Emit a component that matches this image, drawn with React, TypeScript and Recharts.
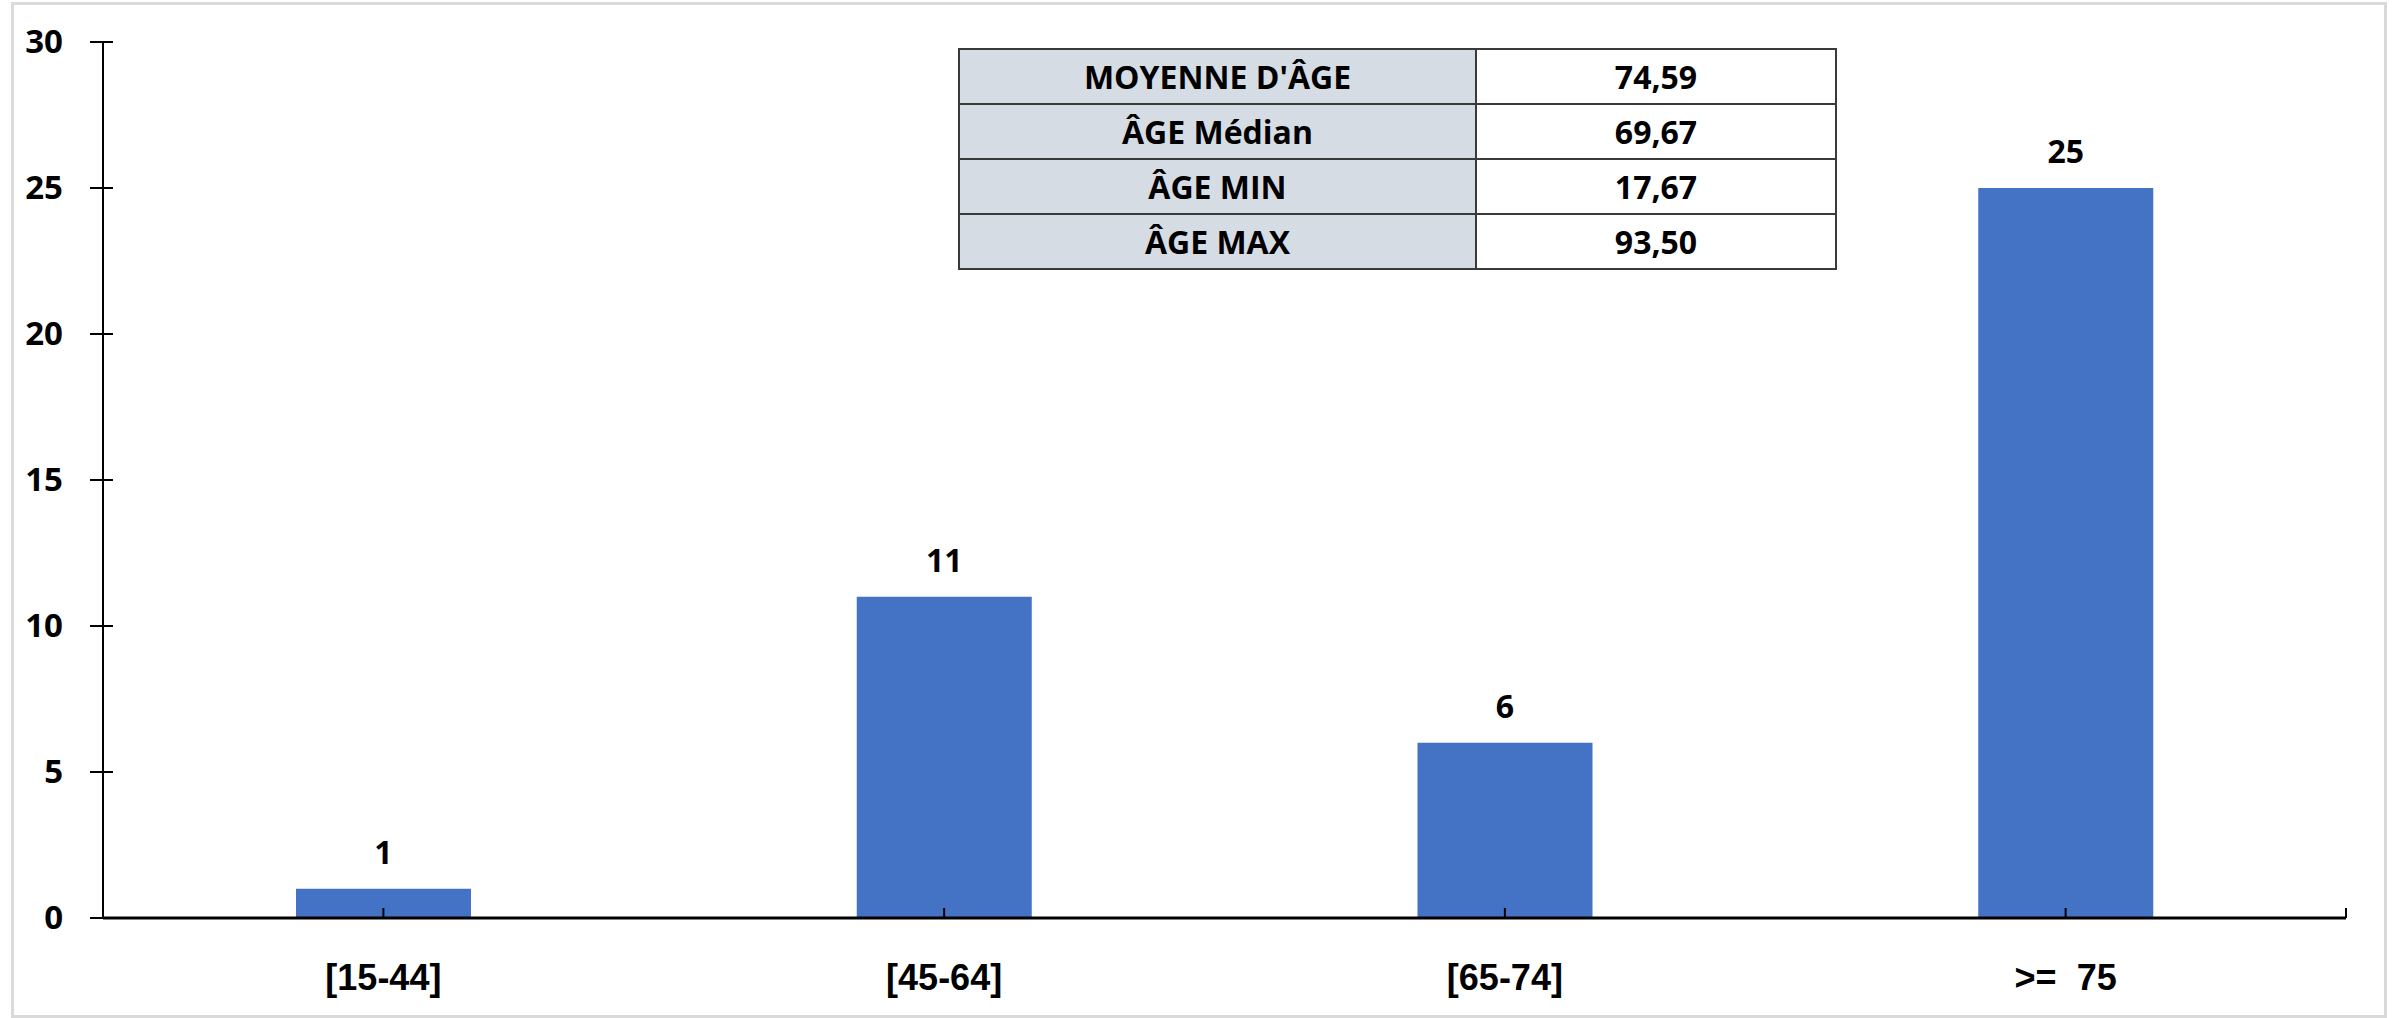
import { BarChart, Bar, XAxis, YAxis, LabelList } from 'recharts';

const ageGroups = ['[15-44]', '[45-64]', '[65-74]', '>=  75'];
const patientCounts = [1, 11, 6, 25];
const yTicks = [0, 5, 10, 15, 20, 25, 30];

const statLabels = ["MOYENNE D'ÂGE", 'ÂGE Médian', 'ÂGE MIN', 'ÂGE MAX'];
const statValues = ['74,59', '69,67', '17,67', '93,50'];

const data = ageGroups.map((group, i) => ({ group, count: patientCounts[i] }));

const CHART_W = 2392;
const CHART_H = 1018;
const MARGIN = { top: 42, right: 46, left: 0, bottom: 0 };
const Y_AXIS_W = 103;
const BAND_W = (CHART_W - MARGIN.left - MARGIN.right - Y_AXIS_W) / ageGroups.length;

const BAR_COLOR = '#4472C4';
const LABEL_FONT = '"Open Sans", sans-serif';
const AXIS_FONT = '"Liberation Sans", Arial, sans-serif';

function YTick({ x, y, payload }: any) {
  return (
    <g>
      <line x1={x - 13} x2={x + 10} y1={y} y2={y} stroke="#000" strokeWidth={2} />
      <text
        x={x - 40}
        y={y + 11}
        textAnchor="end"
        fontFamily={LABEL_FONT}
        fontWeight={700}
        fontSize={33}
        fill="#000"
      >
        {payload.value}
      </text>
    </g>
  );
}

function XTick({ x, y, payload, index }: any) {
  const isLast = index === ageGroups.length - 1;
  return (
    <g>
      <line x1={x} x2={x} y1={y} y2={y - 10} stroke="#000" strokeWidth={2} />
      {isLast && (
        <line
          x1={x + BAND_W / 2}
          x2={x + BAND_W / 2}
          y1={y}
          y2={y - 10}
          stroke="#000"
          strokeWidth={2}
        />
      )}
      <text
        x={x}
        y={y + 72}
        textAnchor="middle"
        fontFamily={AXIS_FONT}
        fontWeight={700}
        fontSize={36}
        fill="#000"
        style={{ whiteSpace: 'pre' }}
      >
        {payload.value}
      </text>
    </g>
  );
}

function StatsTable() {
  const cell: React.CSSProperties = {
    border: '2px solid #3a3a3a',
    height: 53,
    padding: 0,
    textAlign: 'center',
    verticalAlign: 'middle',
    fontFamily: LABEL_FONT,
    fontWeight: 700,
    fontSize: 32,
    color: '#000',
    lineHeight: 1,
  };
  return (
    <table
      style={{
        position: 'absolute',
        left: 958,
        top: 48,
        width: 877,
        borderCollapse: 'collapse',
        tableLayout: 'fixed',
      }}
    >
      <colgroup>
        <col style={{ width: 517 }} />
        <col style={{ width: 360 }} />
      </colgroup>
      <tbody>
        {statLabels.map((label, i) => (
          <tr key={label}>
            <td style={{ ...cell, background: '#D6DCE4' }}>{label}</td>
            <td style={{ ...cell, background: '#fff' }}>{statValues[i]}</td>
          </tr>
        ))}
      </tbody>
    </table>
  );
}

export default function App() {
  return (
    <div
      style={{
        position: 'absolute',
        left: 0,
        top: 0,
        width: CHART_W,
        height: CHART_H,
        background: '#fff',
      }}
    >
      <div
        style={{
          position: 'absolute',
          left: 11,
          top: 2,
          width: 2370,
          height: 1010,
          border: '3px solid #dadada',
        }}
      />
      <BarChart width={CHART_W} height={CHART_H} data={data} margin={MARGIN}>
        <YAxis
          type="number"
          domain={[0, 30]}
          ticks={yTicks}
          width={Y_AXIS_W}
          interval={0}
          axisLine={{ stroke: '#000', strokeWidth: 2 }}
          tickLine={false}
          tickSize={0}
          tickMargin={0}
          tick={<YTick />}
        />
        <XAxis
          dataKey="group"
          height={100}
          interval={0}
          axisLine={{ stroke: '#000', strokeWidth: 3 }}
          tickLine={false}
          tickSize={0}
          tickMargin={0}
          tick={<XTick />}
        />
        <Bar dataKey="count" fill={BAR_COLOR} barSize={175} isAnimationActive={false}>
          <LabelList
            dataKey="count"
            position="top"
            offset={25}
            fill="#000"
            fontFamily={LABEL_FONT}
            fontWeight={700}
            fontSize={32}
          />
        </Bar>
      </BarChart>
      <StatsTable />
    </div>
  );
}
